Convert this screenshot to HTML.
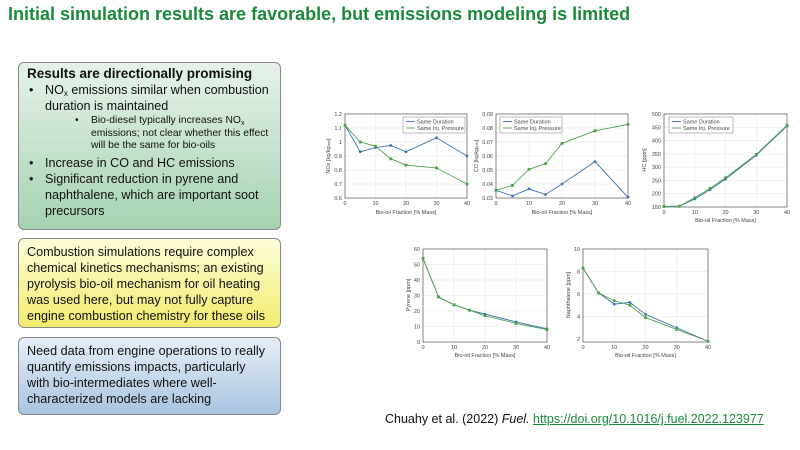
<!DOCTYPE html>
<html><head><meta charset="utf-8"><style>
body{margin:0;width:800px;height:450px;background:#fff;position:relative;overflow:hidden;font-family:"Liberation Sans",sans-serif}
h1{position:absolute;left:8px;top:4px;margin:0;font-size:18px;color:#1a8a3a;font-weight:bold;white-space:nowrap}
sub{line-height:0;vertical-align:-2px}
.box{position:absolute;left:18px;width:263px;border:1px solid #888;border-radius:6px;box-sizing:border-box;padding:4px 8px;font-size:12.6px;line-height:16px;color:#111;white-space:nowrap}
.g{top:62px;height:168px;background:linear-gradient(#e6f2ea,#a5d2b0);padding-top:3px}
.y{top:238px;height:90px;background:linear-gradient(#fdfcd8,#f1ec6d);padding-top:5px}
.b{top:337px;height:78px;background:linear-gradient(#e6eef7,#a9c4e0);padding-top:5px}
.li{position:relative;padding-left:18px}
.li:before{content:"•";position:absolute;left:2px}
.sub{position:relative;padding-left:64px;font-size:10.3px;line-height:12.5px;margin:1px 0 2px}
.sub:before{content:"•";position:absolute;left:48px}
.cite{position:absolute;left:385px;top:412px;font-size:12.5px;color:#111}
.cite a{color:#1a8a3a;text-decoration:underline}
svg{position:absolute;left:0;top:0}
svg text{font-family:"Liberation Sans",sans-serif;font-size:5.5px;fill:#444}
</style></head><body>
<h1>Initial simulation results are favorable, but emissions modeling is limited</h1>
<div class="box g"><b style="font-size:13.5px">Results are directionally promising</b>
<div class="li">NO<sub style="font-size:8px">x</sub> emissions similar when combustion<br>duration is maintained</div>
<div class="sub">Bio-diesel typically increases NO<sub style="font-size:7px">x</sub><br>emissions; not clear whether this effect<br>will be the same for bio-oils</div>
<div class="li">Increase in CO and HC emissions</div>
<div class="li">Significant reduction in pyrene and<br>naphthalene, which are important soot<br>precursors</div></div>
<div class="box y">Combustion simulations require complex<br>chemical kinetics mechanisms; an existing<br>pyrolysis bio-oil mechanism for oil heating<br>was used here, but may not fully capture<br>engine combustion chemistry for these oils</div>
<div class="box b">Need data from engine operations to really<br>quantify emissions impacts, particularly<br>with bio-intermediates where well-<br>characterized models are lacking</div>
<div class="cite">Chuahy et al. (2022) <i>Fuel.</i> <a>https://doi.org/10.1016/j.fuel.2022.123977</a></div>
<svg width="800" height="450">
<defs>
<marker id="mb" markerWidth="4" markerHeight="4" refX="2" refY="2" markerUnits="userSpaceOnUse"><circle cx="2" cy="2" r="1.4" fill="#3a74b5"/></marker>
<marker id="mg" markerWidth="4" markerHeight="4" refX="2" refY="2" markerUnits="userSpaceOnUse"><rect x="0.6" y="0.6" width="2.8" height="2.8" fill="#4ea34a"/></marker>
</defs>
<g stroke="#e4e4e4" stroke-width="0.5" fill="none">
<path d="M375.5 114V198M406 114V198M436.5 114V198M345 128H467M345 142H467M345 156H467M345 170H467M345 184H467"/>
<path d="M529 114V198M562 114V198M595 114V198M496 128H628M496 142H628M496 156H628M496 170H628M496 184H628"/>
<path d="M694.8 114V207M725.5 114V207M756.3 114V207M664 127.3H787M664 140.6H787M664 153.9H787M664 167.1H787M664 180.4H787M664 193.7H787"/>
<path d="M454 249V342M485 249V342M516 249V342M423 264.5H547M423 280H547M423 295.5H547M423 311H547M423 326.5H547"/>
<path d="M614.3 249V342M645.5 249V342M676.8 249V342M583 271.5H708M583 294H708M583 316.5H708"/>
</g>
<g stroke="#333" stroke-width="0.6" fill="none">
<rect x="345" y="114" width="122" height="84"/><rect x="496" y="114" width="132" height="84"/>
<rect x="664" y="114" width="123" height="93"/><rect x="423" y="249" width="124" height="93"/><rect x="583" y="249" width="125" height="93"/>
</g>
<g stroke-width="0.9" fill="none">
<g stroke="#3a74b5" marker-start="url(#mb)" marker-mid="url(#mb)" marker-end="url(#mb)">
<polyline points="345,125.2 360.3,151.8 375.5,147.6 390.8,145.5 406,151.8 436.5,137.8 467,156"/>
<polyline points="496,190.3 512.5,195.9 529,188.9 545.5,194.5 562,184 595,161.6 628,197.3"/>
<polyline points="664,206.5 679.4,206.2 694.8,199 710.1,189.7 725.5,179.1 756.3,155.2 787,126"/>
<polyline points="423,258.3 438.5,297 454,304.8 469.5,310.2 485,314.1 516,321.9 547,328.8"/>
<polyline points="583,268.1 598.6,292.9 614.3,304.1 629.9,302.4 645.5,314.3 676.8,327.75 708,341.25"/>
</g>
<g stroke="#4ea34a" marker-start="url(#mg)" marker-mid="url(#mg)" marker-end="url(#mg)">
<polyline points="345,125.2 360.3,142 375.5,146.2 390.8,158.8 406,165.1 436.5,167.9 467,184"/>
<polyline points="496,190.3 512.5,185.4 529,169.3 545.5,163.7 562,143.4 595,130.8 628,124.5"/>
<polyline points="664,206.5 679.4,206.2 694.8,197.7 710.1,188.4 725.5,177.8 756.3,154.4 787,125.2"/>
<polyline points="423,258.3 438.5,297 454,304.8 469.5,310.2 485,315.7 516,323.4 547,329.6"/>
<polyline points="583,268.1 598.6,292.9 614.3,300.75 629.9,305.25 645.5,317.6 676.8,329.4 708,341.25"/>
</g>
</g>
<g><rect x="403" y="117" width="62" height="16" fill="#fff" stroke="#555" stroke-width="0.4"/>
<path d="M406 121.5h9" stroke-width="0.9" stroke="#3a74b5"/><path d="M406 128h9" stroke="#4ea34a" stroke-width="0.9"/>
<text x="417" y="123.5">Same Duration</text><text x="417" y="130">Same Inj. Pressure</text>
<rect x="500" y="117" width="62" height="16" fill="#fff" stroke="#555" stroke-width="0.4"/>
<path d="M503 121.5h9" stroke="#3a74b5" stroke-width="0.9"/><path d="M503 128h9" stroke="#4ea34a" stroke-width="0.9"/>
<text x="514" y="123.5">Same Duration</text><text x="514" y="130">Same Inj. Pressure</text>
<rect x="669" y="117" width="64" height="16" fill="#fff" stroke="#555" stroke-width="0.4"/>
<path d="M672 121.5h9" stroke="#3a74b5" stroke-width="0.9"/><path d="M672 128h9" stroke="#4ea34a" stroke-width="0.9"/>
<text x="683" y="123.5">Same Duration</text><text x="683" y="130">Same Inj. Pressure</text></g>
<g text-anchor="middle">
<text x="345" y="205">0</text><text x="375.5" y="205">10</text><text x="406" y="205">20</text><text x="436.5" y="205">30</text><text x="467" y="205">40</text>
<text x="406" y="214">Bio-oil Fraction [% Mass]</text>
<text x="496" y="205">0</text><text x="529" y="205">10</text><text x="562" y="205">20</text><text x="595" y="205">30</text><text x="628" y="205">40</text>
<text x="562" y="214">Bio-oil Fraction [% Mass]</text>
<text x="664" y="214">0</text><text x="694.8" y="214">10</text><text x="725.5" y="214">20</text><text x="756.3" y="214">30</text><text x="787" y="214">40</text>
<text x="725.5" y="222">Bio-oil Fraction [% Mass]</text>
<text x="423" y="349">0</text><text x="454" y="349">10</text><text x="485" y="349">20</text><text x="516" y="349">30</text><text x="547" y="349">40</text>
<text x="485" y="357">Bio-oil Fraction [% Mass]</text>
<text x="583" y="349">0</text><text x="614.3" y="349">10</text><text x="645.5" y="349">20</text><text x="676.8" y="349">30</text><text x="708" y="349">40</text>
<text x="645.5" y="357">Bio-oil Fraction [% Mass]</text>
</g>
<g text-anchor="end">
<text x="342" y="116">1.2</text><text x="342" y="130">1.1</text><text x="342" y="144">1</text><text x="342" y="158">0.9</text><text x="342" y="172">0.8</text><text x="342" y="186">0.7</text><text x="342" y="200">0.6</text>
<text x="493" y="116">0.09</text><text x="493" y="130">0.08</text><text x="493" y="144">0.07</text><text x="493" y="158">0.06</text><text x="493" y="172">0.05</text><text x="493" y="186">0.04</text><text x="493" y="200">0.03</text>
<text x="661" y="116">500</text><text x="661" y="129.3">450</text><text x="661" y="142.6">400</text><text x="661" y="155.9">350</text><text x="661" y="169.1">300</text><text x="661" y="182.4">250</text><text x="661" y="195.7">200</text><text x="661" y="209">150</text>
<text x="420" y="251">60</text><text x="420" y="266.5">50</text><text x="420" y="282">40</text><text x="420" y="297.5">30</text><text x="420" y="313">20</text><text x="420" y="328.5">10</text><text x="420" y="344">0</text>
<text x="580" y="251">10</text><text x="580" y="273.5">8</text><text x="580" y="296">6</text><text x="580" y="318.5">4</text><text x="580" y="341">2</text>
</g>
<g text-anchor="middle">
<text transform="translate(330,156) rotate(-90)">NOx [kg/kg<tspan font-size="4">fuel</tspan>]</text>
<text transform="translate(478,156) rotate(-90)">CO [kg/kg<tspan font-size="4">fuel</tspan>]</text>
<text transform="translate(646,160) rotate(-90)">HC [ppm]</text>
<text transform="translate(410,295) rotate(-90)">Pyrene [ppm]</text>
<text transform="translate(570,295) rotate(-90)">Naphthalene [ppm]</text>
</g>
</svg>
</body></html>
